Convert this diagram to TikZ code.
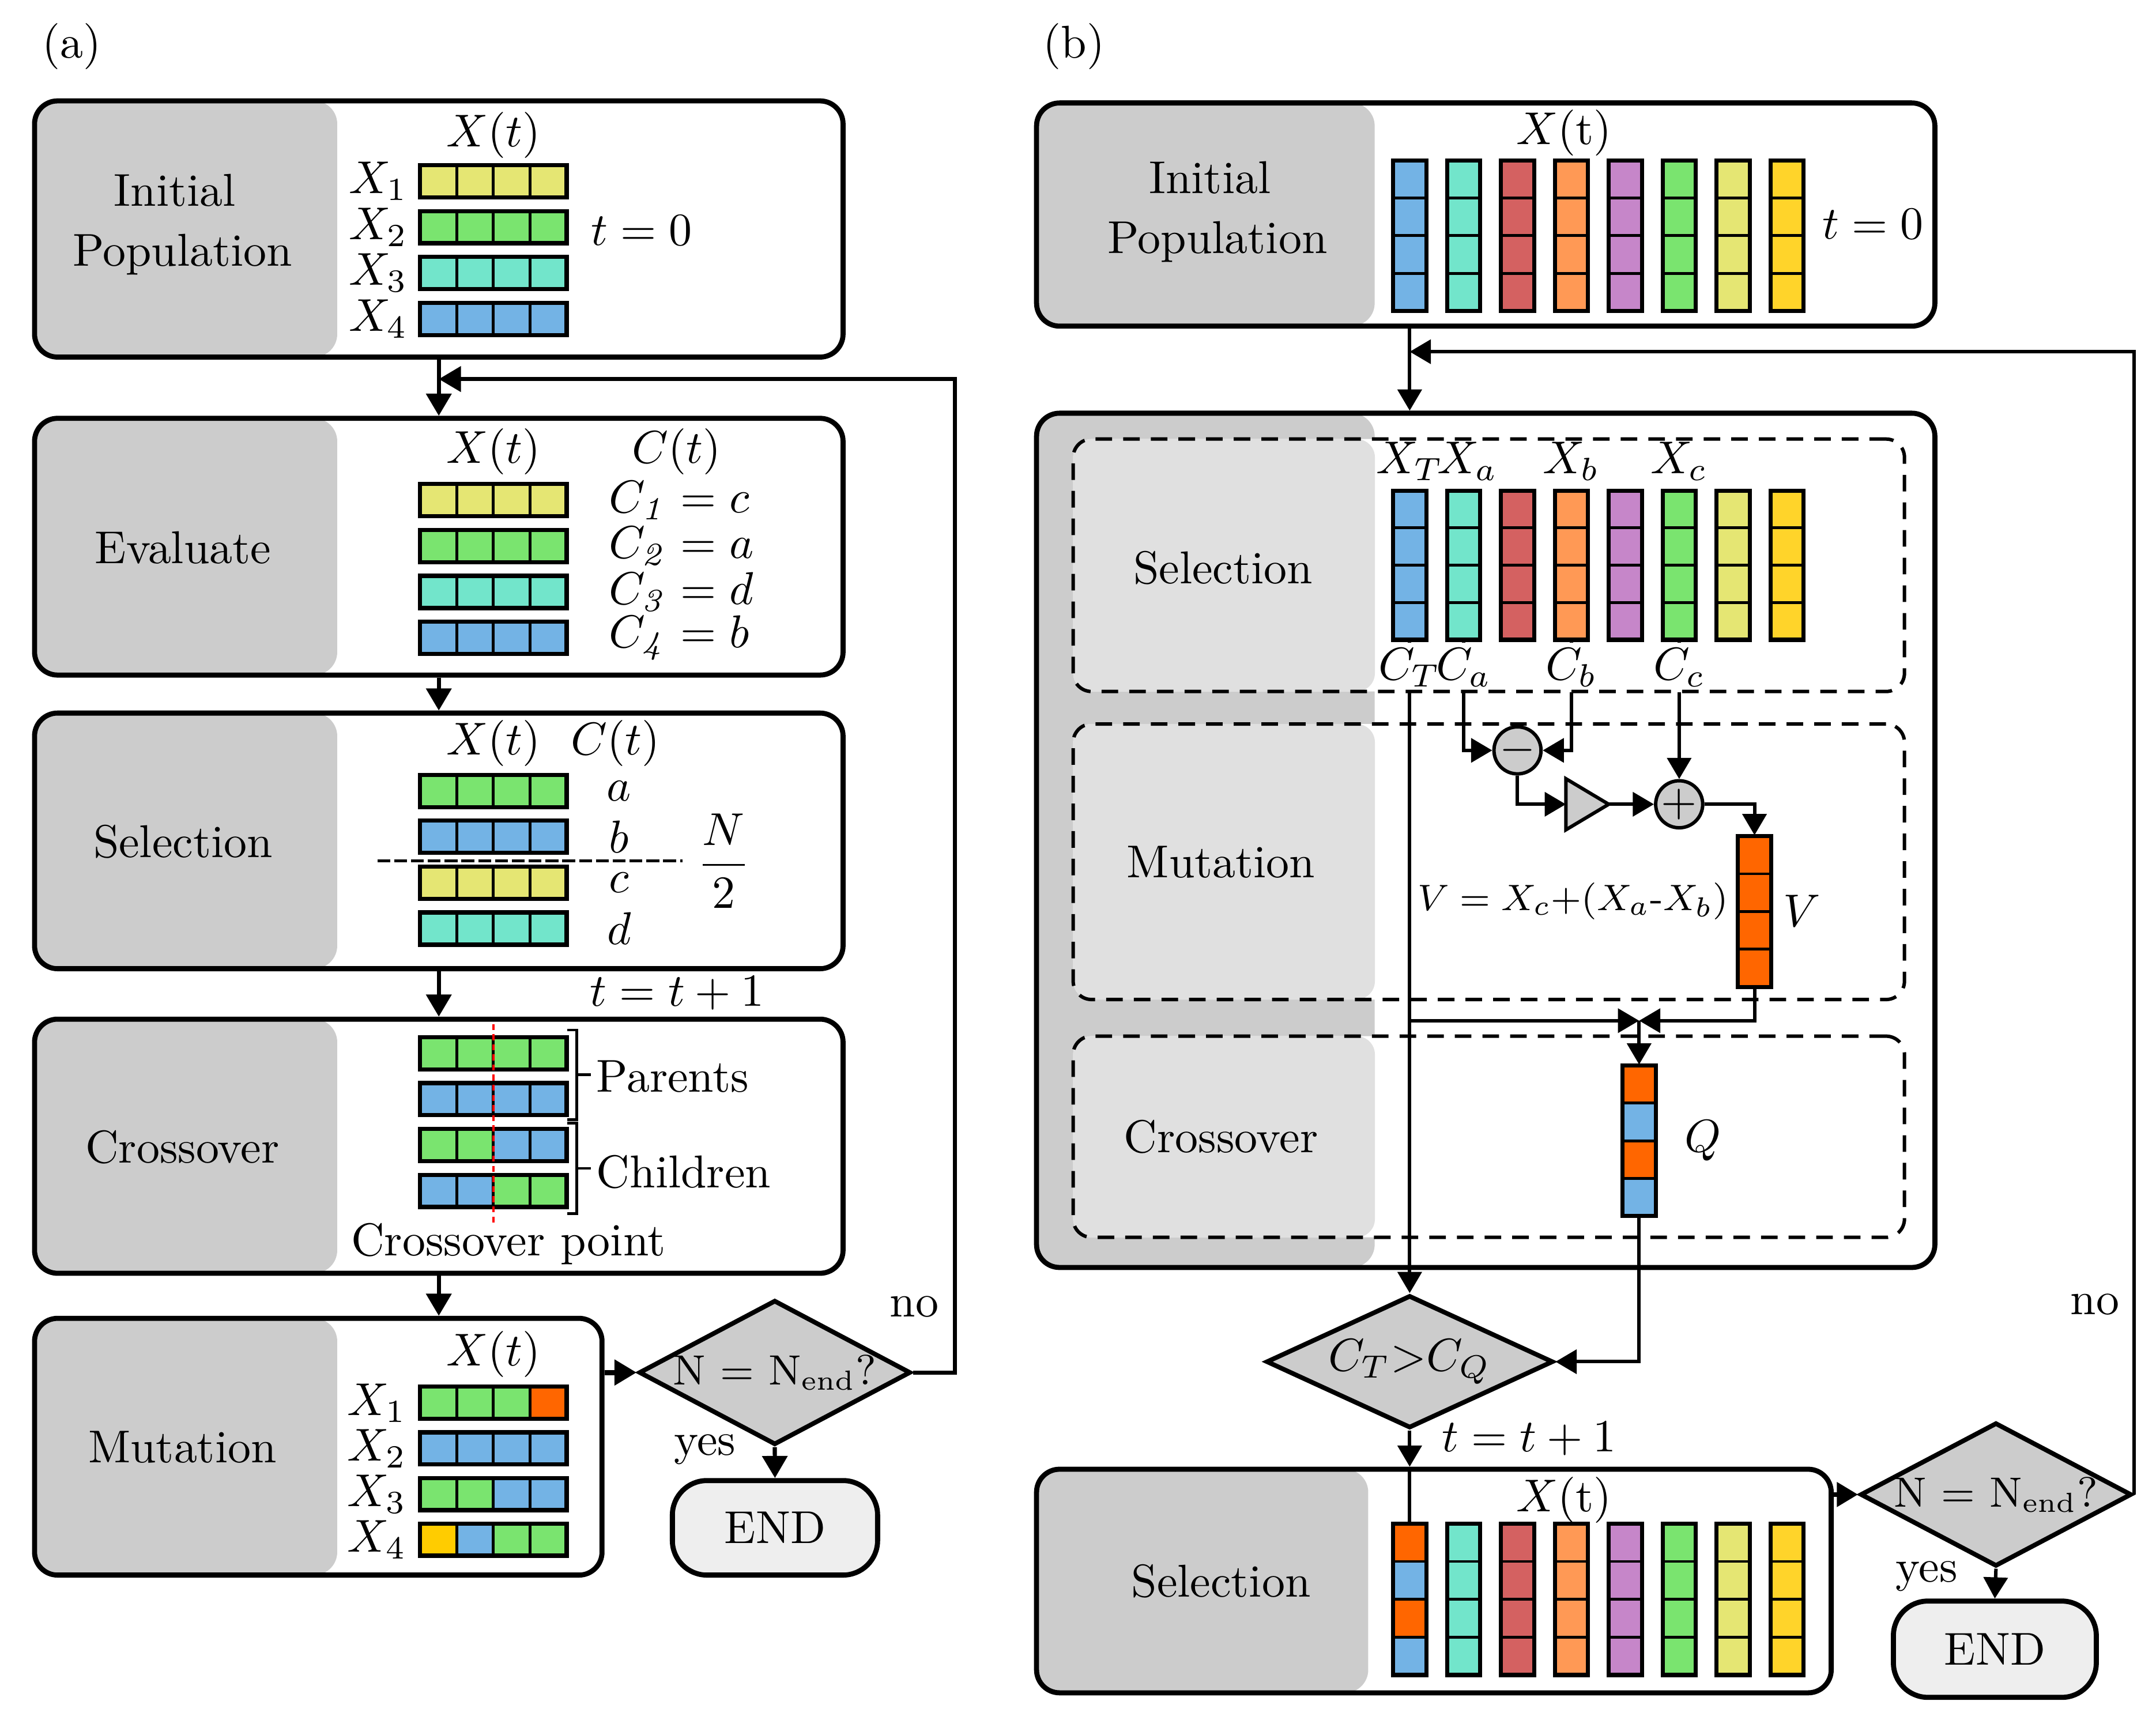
\documentclass[tikz,border=0pt]{standalone}
\usepackage{amsmath}
\usetikzlibrary{arrows.meta,shapes.geometric,fit,calc}
\definecolor{gY}{HTML}{E5E673}
\definecolor{gG}{HTML}{7AE46F}
\definecolor{gC}{HTML}{72E5CB}
\definecolor{gB}{HTML}{73B3E5}
\definecolor{gR}{HTML}{D46161}
\definecolor{gO}{HTML}{FF9955}
\definecolor{gP}{HTML}{C686C9}
\definecolor{gK}{HTML}{FFD42A}
\definecolor{gM}{HTML}{FF6600}
\definecolor{gA}{HTML}{FFCC00}
\definecolor{pan}{HTML}{CCCCCC}
\definecolor{pantwo}{HTML}{E0E0E0}
\definecolor{endc}{HTML}{EEEEEE}
\newcommand\hrow[3]{\foreach \cc [count=\ii from 0] in {#3}{\draw[cell,fill=\cc] ({#1+\ii*26.5},#2) rectangle ++(26.5,23.3);}\draw[line width=0.9pt] (#1,#2) rectangle ++(106,23.3);}
\newcommand\vcol[4]{\foreach \cc [count=\ii from 0] in {#4}{\draw[cell,fill=\cc] ({#1-12},{#2+\ii*#3}) rectangle ++(24,#3);}\draw[line width=0.9pt] ({#1-12},#2) rectangle ++(24,{4*#3});}
\newcommand\colset[3]{\vcol{1020}{#1}{#2}{#3}%
  \foreach \k/\cl in {1/gC,2/gR,3/gO,4/gP,5/gG,6/gY,7/gK}{\vcol{1020+39*\k}{#1}{#2}{\cl,\cl,\cl,\cl}}}
\begin{document}
\begin{tikzpicture}[x=0.3pt,y=-0.3pt,
  box/.style={draw, line width=1.1pt, rounded corners=5pt, inner sep=0pt, fill=white},
  gbox/.style={box, path picture={\fill[pan] (path picture bounding box.north west) rectangle ([xshift=#1]path picture bounding box.south west);}},
  dbox/.style={draw, line width=0.75pt, dash pattern=on 3.6pt off 2.4pt, rounded corners=4pt, inner sep=0pt, fill=white,
     path picture={\fill[pantwo] (path picture bounding box.north west) rectangle ([xshift=#1]path picture bounding box.south west);}},
  dia/.style={draw, line width=1pt, fill=pan, diamond, inner sep=0pt},
  diat/.style={font=\fontsize{9.2}{11}\selectfont, inner sep=0pt},
  endst/.style={draw, line width=1.1pt, fill=endc, rounded corners=7.5pt, inner sep=0pt},
  cell/.style={draw, line width=0.6pt},
  lbl/.style={inner sep=0pt, align=center, font=\fontsize{10}{13}\selectfont},
  arrA/.style={-{Triangle[length=4.8pt,width=5.4pt]}, line width=0.9pt},
  arrB/.style={-{Triangle[length=4.6pt,width=5.2pt]}, line width=0.75pt},
  lnB/.style={line width=0.75pt},
  opc/.style={draw, circle, fill=pan, line width=0.75pt, minimum size=8.2pt, inner sep=0pt},
]
\useasboundingbox (0,0) rectangle (1560,1247.2);

% ================= panel (a) =================
\node (labA) at (52,33.7) {(a)};

% Initial population
\node[gbox=65.7pt, fit={(25,73)(610,258.4)}] (a1) {};
\node[lbl] (a1l) at (132,162.5) {Initial\kern3.3pt\\Population};
\node (a1x) at (357,97.8) {$X(t)$};
\hrow{304}{119.5}{gY,gY,gY,gY}
\hrow{304}{152.7}{gG,gG,gG,gG}
\hrow{304}{185.9}{gC,gC,gC,gC}
\hrow{304}{219.1}{gB,gB,gB,gB}
\foreach \i in {1,...,4} \node (a1n\i) at (273.7,{119.5+33.2*(\i-1)+11.65}) {$X_\i$};
\node (a1t) at (464.3,166.6) {$t = 0$};

% Evaluate
\node[gbox=65.7pt, fit={(25,302.7)(610,488.5)}] (a2) {};
\node[lbl] (a2l) at (132.4,396.4) {Evaluate};
\node (a2x) at (357,326.7) {$X(t)$};
\node (a2c) at (489.4,326.7) {$C(t)$};
\hrow{304}{350.3}{gY,gY,gY,gY}
\hrow{304}{383.5}{gG,gG,gG,gG}
\hrow{304}{416.7}{gC,gC,gC,gC}
\hrow{304}{449.9}{gB,gB,gB,gB}
\node[anchor=west, inner sep=0pt] (a2c1) at (440,362) {$C_{\mathit{1}} = c$};
\node[anchor=west, inner sep=0pt] (a2c2) at (440,395.2) {$C_{\mathit{2}} = a$};
\node[anchor=west, inner sep=0pt] (a2c3) at (440,428.4) {$C_{\mathit{3}} = d$};
\node[anchor=west, inner sep=0pt] (a2c4) at (440,461.6) {$C_{\mathit{4}} = b$};

% Selection
\node[gbox=65.7pt, fit={(25,516)(610,701)}] (a3) {};
\node[lbl] (a3l) at (132.4,609) {Selection};
\node (a3x) at (357,538) {$X(t)$};
\node (a3c) at (445.3,538) {$C(t)$};
\hrow{304}{560.7}{gG,gG,gG,gG}
\hrow{304}{593.9}{gB,gB,gB,gB}
\hrow{304}{627.1}{gY,gY,gY,gY}
\hrow{304}{660.3}{gC,gC,gC,gC}
\node (a3a) at (448,572.3) {$a$};
\node (a3b) at (448,605.5) {$b$};
\node (a3cc) at (448,638.7) {$c$};
\node (a3d) at (448,671.9) {$d$};
\draw[line width=0.6pt, dash pattern=on 2.8pt off 0.85pt] (273,623) -- (494,623);
\node (a3f) at (523.5,623) {$\dfrac{N}{2}$};
\node (a3tt) at (490,718.5) {$t = t + 1$};

% Crossover
\node[gbox=65.7pt, fit={(25,737.5)(610,921.4)}] (a4) {};
\node[lbl] (a4l) at (132,830) {Crossover};
\hrow{304}{750.5}{gG,gG,gG,gG}
\hrow{304}{783.7}{gB,gB,gB,gB}
\hrow{304}{816.9}{gG,gG,gB,gB}
\hrow{304}{850.1}{gB,gB,gG,gG}
\draw[red, line width=0.5pt, dash pattern=on 1.3pt off 0.9pt] (357,741) -- (357,887);
\draw[line width=0.6pt] (410.5,745.4) -- (417.4,745.4) -- (417.4,810.3) -- (410.5,810.3);
\draw[line width=0.6pt] (417.4,777.8) -- (427.4,777.8);
\draw[line width=0.6pt] (410.5,812.7) -- (417.4,812.7) -- (417.4,878.2) -- (410.5,878.2);
\draw[line width=0.6pt] (417.4,845.5) -- (427.4,845.5);
\node[anchor=west, inner sep=0pt] (a4p) at (431,779) {Parents};
\node[anchor=west, inner sep=0pt] (a4ch) at (431,848) {Children};
\node (a4cp) at (367.8,900) {Crossover point};

% Mutation
\node[gbox=65.7pt, fit={(25,954)(435.6,1139.8)}] (a5) {};
\node[lbl] (a5l) at (132,1047) {Mutation};
\node (a5x) at (357,980) {$X(t)$};
\hrow{304}{1003.5}{gG,gG,gG,gM}
\hrow{304}{1036.5}{gB,gB,gB,gB}
\hrow{304}{1069.5}{gG,gG,gB,gB}
\hrow{304}{1102.5}{gA,gB,gG,gG}
\foreach \i in {1,...,4} \node (a5n\i) at (272.8,{1003.5+33*(\i-1)+11.65}) {$X_\i$};

% decision and end
\node[dia, minimum width=59pt, minimum height=31.4pt] (da) at (560.6,993.2) {};
\node[diat] (dat) at (da) {N = N$_{\mathrm{end}}$?};
\node[endst, fit={(486.5,1071.4)(635,1139.8)}] (enda) {};
\node (endat) at (enda) {END};
\node (ano) at (661.5,945.5) {no};
\node (ayes) at (510,1049) {yes};

% connectors (a)
\coordinate (fbA) at (317.5,274.3);
\coordinate (fbAr) at (691,274.3);
\draw[arrA] (a1.south) -- (a2.north);
\draw[arrA] (a2.south) -- (a3.north);
\draw[arrA] (a3.south) -- (a4.north);
\draw[arrA] (a4.south) -- (a4.south |- a5.north);
\draw[arrA, line width=1.1pt] (da.west -| a5.east) -- (da.west);
\draw[arrA] (da.south) -- (enda.north);
\draw[arrA] (da.east) -| (fbAr) -- (fbA);

% ================= panel (b) =================
\node (labB) at (777,33.7) {(b)};

% Initial population
\node[gbox=73.4pt, fit={(750,74.5)(1400,236)}] (b1) {};
\node[lbl] (b1l) at (881,153.3) {Initial\kern3.3pt\\Population};
\node (b1x) at (1131.6,96.3) {$X(\mathrm{t})$};
\colset{116}{27.25}{gB,gB,gB,gB}
\node (b1t) at (1355.2,162) {$t = 0$};

% big box
\node[gbox=73.4pt, fit={(750,299)(1400,917.2)}] (b2) {};
\node[dbox=65.5pt, fit={(776.5,317.7)(1378,500.4)}] (bsel) {};
\node[dbox=65.5pt, fit={(776.5,523.9)(1378,723.3)}] (bmut) {};
\node[dbox=65.5pt, fit={(776.5,749.8)(1378,895.4)}] (bcro) {};
\node[lbl] (bsell) at (885,411) {Selection};
\node[lbl] (bmutl) at (883.5,624) {Mutation};
\node[lbl] (bcrol) at (883.5,822.5) {Crossover};

% selection columns
\colset{355}{27}{gB,gB,gB,gB}
\node (XT) at (1020,333.8) {$X_T$};
\node (Xa) at (1062,333.8) {$X_a$};
\node (Xb) at (1137,333.8) {$X_b$};
\node (Xc) at (1215,333.8) {$X_c$};
\node[inner sep=1pt] (CT) at (1020,483) {$C_T$};
\node[inner sep=1pt] (Ca) at (1059,483) {$C_a$};
\node[inner sep=1pt] (Cb) at (1137,483) {$C_b$};
\node[inner sep=1pt] (Cc) at (1215,483) {$C_c$};
\coordinate (s1) at (1020,463);
\coordinate (s2) at (1059,463);
\coordinate (s4) at (1137,463);
\coordinate (s6) at (1215,463);
\draw[lnB] (s1) -- (CT.north);
\draw[lnB] (s2) -- (Ca.north);
\draw[lnB] (s4) -- (Cb.north);
\draw[lnB] (s6) -- (Cc.north);

% mutation
\node[opc] (minus) at (1098,543) {$-$};
\node[opc] (plus) at (1215,582) {$+$};
\coordinate (ampW) at (1133,582);
\coordinate (ampE) at (1164,582);
\draw[line width=0.75pt, fill=pan] (1133,563.5) -- (ampE) -- (1133,600.5) -- cycle;
\vcol{1269.5}{605}{27.3}{gM,gM,gM,gM}
\node[fit={(1257.5,605)(1281.5,714.2)}, inner sep=0pt] (V) {};
\node (Vl) at (1303.8,659.3) {$V$};
\node[font=\fontsize{8}{10}\selectfont] (form) at (1138,652) {$V = X_c{+}(X_a\mbox{-}X_b)$};

% crossover
\coordinate (J) at (1186,738.6);
\vcol{1186}{771}{27.25}{gM,gB,gM,gB}
\node[fit={(1174,771)(1198,880)}, inner sep=0pt] (Q) {};
\node (Ql) at (1232.2,825.4) {$Q$};

% diamond 1
\node[dia, minimum width=62.3pt, minimum height=28.8pt] (d1) at (1020,985.4) {};
\node (d1t) at (d1) {$C_T{>}C_Q$};
\node (btt) at (1106.4,1041) {$t = t + 1$};

% final selection
\node[gbox=72pt, fit={(750,1063.2)(1325,1225)}] (b3) {};
\node[lbl] (b3l) at (883.5,1144) {Selection};
\node (b3x) at (1131.6,1085.6) {$X(\mathrm{t})$};
\colset{1102.5}{27.4}{gM,gB,gM,gB}
\coordinate (b3c1) at (1020,1102.5);

% diamond 2 and end
\node[dia, minimum width=58.9pt, minimum height=31.2pt] (d2) at (1444.2,1081.5) {};
\node[diat] (d2t) at (d2) {N = N$_{\mathrm{end}}$?};
\node[endst, fit={(1370,1158.6)(1516.8,1228.3)}] (endb) {};
\node (endbt) at (endb) {END};
\node (bno) at (1515.8,944) {no};
\node (byes) at (1394,1140.7) {yes};

% connectors (b)
\coordinate (bx) at (1020,0);
\coordinate (fbB) at (1020,254.5);
\draw[arrB] (b1.south -| bx) -- (b2.north -| bx);
\draw[arrB] (d2.east) -- (d2.east |- fbB) -- (fbB);
\draw[arrB] (CT.south) -- (d1.north);
\draw[arrB] (Ca.south) |- (minus.west);
\draw[arrB] (Cb.south) |- (minus.east);
\draw[arrB] (Cc.south) -- (plus.north);
\draw[arrB] (minus.south) |- (ampW);
\draw[arrB] (ampE) -- (plus.west);
\draw[arrB] (plus.east) -| (V.north);
\draw[arrB] (CT.south |- J) -- (J);
\draw[arrB] (V.south) |- (J);
\draw[arrB] (J) -- (Q.north);
\draw[arrB] (Q.south) |- (d1.east);
\draw[arrB] (d1.south) -- (d1.south |- b3.north);
\draw[lnB] (d1.south |- b3.north) -- (b3c1);
\draw[arrB, line width=1pt] (d2.west -| b3.east) -- (d2.west);
\draw[arrB] (d2.south) -- (endb.north);
\end{tikzpicture}
\end{document}
